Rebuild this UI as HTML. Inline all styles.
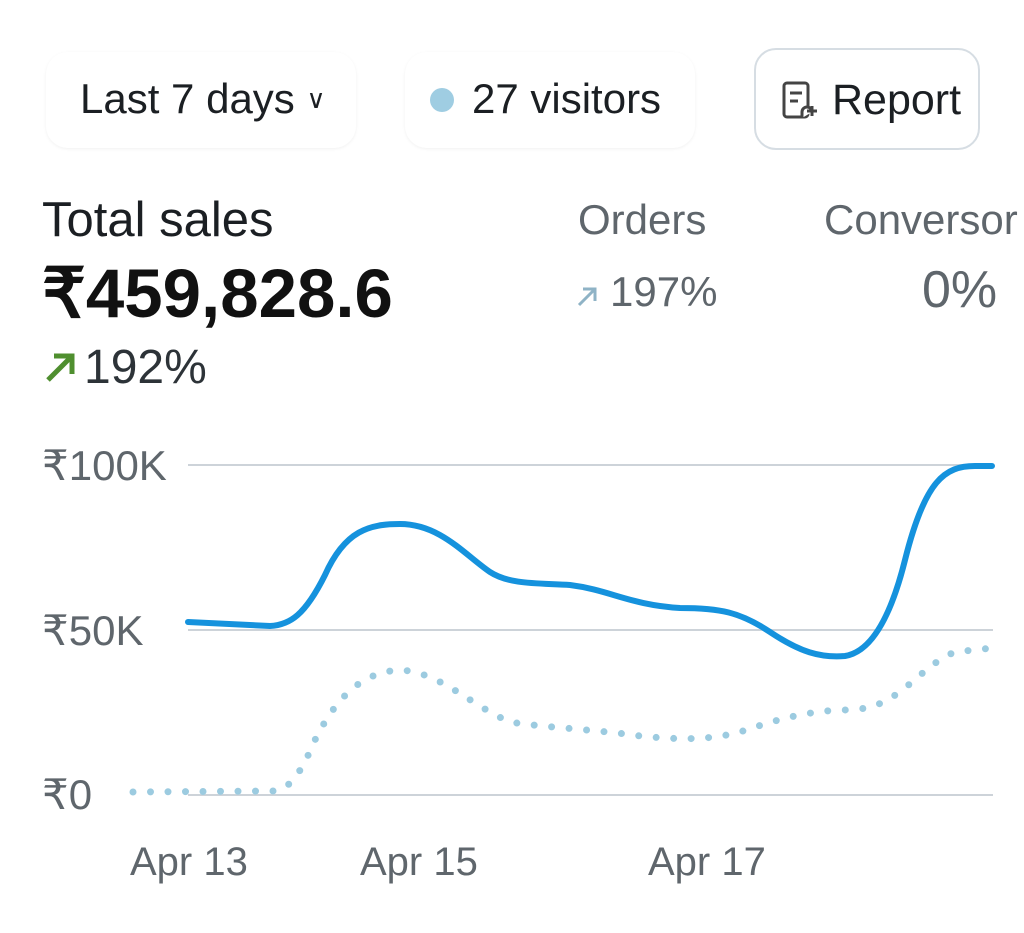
<!DOCTYPE html>
<html><head><meta charset="utf-8"><style>
html,body{margin:0;padding:0;background:#fff;width:1024px;height:933px;overflow:hidden;font-family:"Liberation Sans",sans-serif;}
.a{position:absolute;white-space:nowrap;}
</style></head><body>
<div class="a" style="left:46px;top:52px;width:310px;height:96px;border-radius:22px;box-shadow:0 1px 3px rgba(0,0,0,0.06);"></div>
<div class="a" style="left:80px;top:75px;font-size:42px;color:#1b1f23;">Last 7 days <span style="font-size:26px;position:relative;top:-5px;">&#x2228;</span></div>
<div class="a" style="left:405px;top:52px;width:290px;height:96px;border-radius:22px;box-shadow:0 1px 3px rgba(0,0,0,0.06);"></div>
<div class="a" style="left:430px;top:88px;width:24px;height:24px;border-radius:50%;background:#9fcde2;"></div>
<div class="a" style="left:472px;top:75px;font-size:42px;color:#1b1f23;">27 visitors</div>
<div class="a" style="left:754px;top:48px;width:222px;height:98px;border:2px solid #d6dde3;border-radius:22px;"></div>
<svg class="a" style="left:780px;top:80px" width="40" height="42" viewBox="0 0 40 42"><rect x="4" y="3" width="24" height="34" rx="3" fill="none" stroke="#444" stroke-width="3"/><line x1="10" y1="13" x2="22" y2="13" stroke="#444" stroke-width="3"/><line x1="10" y1="21" x2="18" y2="21" stroke="#444" stroke-width="3"/><path d="M22 38 v-6 a5 5 0 0 1 10 0 M32 26 v10 M27 31 h10" stroke="#444" stroke-width="3" fill="#fff"/></svg>
<div class="a" style="left:832px;top:76px;font-size:43px;color:#1b1f23;">Report</div>
<div class="a" style="left:42px;top:192px;font-size:49px;color:#1b1f23;">Total sales</div>
<div class="a" style="left:42px;top:254px;font-size:69px;font-weight:bold;color:#111;">₹459,828.6</div>
<svg class="a" style="left:44px;top:350px" width="34" height="34"><path d="M4 30 L28 6 M10 6 H28 V24" stroke="#4f8f2f" stroke-width="5" fill="none"/></svg>
<div class="a" style="left:84px;top:340px;font-size:48px;color:#2d3338;">192%</div>
<div class="a" style="left:578px;top:196px;font-size:42px;color:#5f666c;">Orders</div>
<svg class="a" style="left:576px;top:284px" width="24" height="24"><path d="M3 21 L19 5 M7 5 H19 V17" stroke="#8fb3c6" stroke-width="3" fill="none"/></svg>
<div class="a" style="left:610px;top:268px;font-size:42px;color:#5f666c;">197%</div>
<div class="a" style="left:824px;top:196px;font-size:42px;color:#5f666c;">Conversor</div>
<div class="a" style="left:922px;top:260px;font-size:52px;color:#5f666c;">0%</div>
<div class="a" style="left:42px;top:441px;font-size:42px;color:#5f666c;">₹100K</div>
<div class="a" style="left:42px;top:606px;font-size:42px;color:#5f666c;">₹50K</div>
<div class="a" style="left:42px;top:770px;font-size:42px;color:#5f666c;">₹0</div>
<div class="a" style="left:130px;top:840px;font-size:40px;color:#5f666c;">Apr 13</div>
<div class="a" style="left:360px;top:840px;font-size:40px;color:#5f666c;">Apr 15</div>
<div class="a" style="left:648px;top:840px;font-size:40px;color:#5f666c;">Apr 17</div>
<svg class="a" style="left:0;top:0" width="1024" height="933">
<g stroke="#cdd3d9" stroke-width="2"><line x1="188" y1="465" x2="993" y2="465"/><line x1="188" y1="630" x2="993" y2="630"/><line x1="188" y1="795" x2="993" y2="795"/></g>
<path d="M133 792 L275 791 C290 788 300 775 315 740 C335 700 360 672 400 670 C440 672 470 705 510 722 C540 727 600 730 640 736 C680 740 710 740 740 732 C770 722 800 712 840 710 C870 710 880 705 900 692 C920 676 935 660 955 652 L993 648" fill="none" stroke="#9ccbe0" stroke-width="7" stroke-linecap="round" stroke-dasharray="0 17.5"/>
<path d="M188 622 L270 626 C290 625 305 615 325 575 C345 530 370 524 400 524 C440 524 465 555 490 572 C510 585 540 583 570 585 C610 590 630 605 680 608 C720 608 740 612 770 632 C800 652 820 658 845 656 C870 652 890 620 905 560 C925 480 945 466 975 466 L992 466" fill="none" stroke="#1592dd" stroke-width="6" stroke-linecap="round"/>
</svg>
</body></html>
